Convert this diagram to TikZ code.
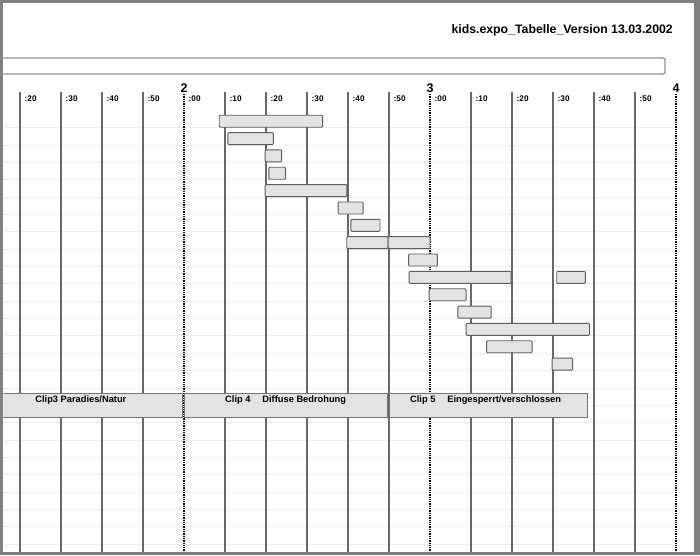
\documentclass[tikz,border=0pt]{standalone}
\usepackage{fontspec}
\setmainfont{Liberation Sans}
\usetikzlibrary{positioning}
\definecolor{framegray}{HTML}{808080}
\definecolor{gridgray}{HTML}{686868}
\definecolor{rowgray}{HTML}{EDEDED}
\definecolor{barfill}{HTML}{E3E3E3}
\definecolor{barline}{HTML}{5C5C5C}
\tikzset{
    tick/.style={draw=gridgray,line width=1.1pt},
    hour/.style={draw=black,line width=1.3pt,densely dotted},
    rowline/.style={draw=rowgray,line width=0.9pt},
    bar/.style={draw=barline,fill=barfill,line width=0.9pt,rounded corners=1pt},
    clipbox/.style={draw=barline!85,fill=barfill,line width=1pt},
    minlabel/.style={anchor=west,inner sep=0pt,font=\fontsize{8.2}{10}\selectfont\bfseries},
    hourlabel/.style={anchor=base,inner sep=0pt,font=\fontsize{12.5}{14}\selectfont\bfseries},
    cliplabel/.style={anchor=north west,inner sep=0pt,font=\fontsize{9.3}{11}\selectfont\bfseries},
    headline/.style={anchor=base east,inner sep=0pt,font=\fontsize{12.3}{14}\selectfont\bfseries},
}

\begin{document}
\begin{tikzpicture}[x=1pt,y=-1pt]
    \useasboundingbox (0,0) rectangle (700,555);
    \fill[framegray] (0,0) rectangle (700,555);
    \fill[white] (3.3,2.7) rectangle (694,551.5);

    \begin{scope}
    \clip (3.3,2.7) rectangle (694,551.5);
    \node[headline] (title) at (673,33.3) {kids.expo\_Tabelle\_Version 13.03.2002};
    \draw[framegray!90,line width=1.3pt,rounded corners=1.5pt] (-5,58) rectangle (665,74);

    \foreach \r in {0,...,24}
        \draw[rowline] (-5,{127.7+17.35*\r}) -- (676,{127.7+17.35*\r});

    \begin{scope}[x=4.1pt,xshift=184pt]
    \foreach \m in {-40,-30,-20,-10,10,20,30,40,50,70,80,90,100,110}
        \draw[tick] (\m,92) -- (\m,552);
    \foreach \m/\h in {0/2,60/3,120/4} {
        \draw[hour] (\m,94) -- (\m,552);
        \node[hourlabel] (hour\h) at (\m,92.7) {\h};
    }
    \foreach \m/\mm [count=\i] in {-40/20,-30/30,-20/40,-10/50,0/00,10/10,20/20,30/30,
        40/40,50/50,60/00,70/10,80/20,90/30,100/40,110/50}
        \node[minlabel] (min\i) at (\m+1.1,99) {:\mm};

    \foreach \r/\a/\b in {0/8.6/33.8, 1/10.7/21.8, 2/19.8/23.8, 3/20.7/24.8, 4/19.8/39.7,
        5/37.6/43.7, 6/40.7/47.8, 7/39.7/49.8, 7/49.8/60, 8/54.8/61.8, 9/54.9/79.8,
        9/90.9/97.9, 10/59.8/68.8, 11/66.8/74.9, 12/68.8/98.9, 13/73.8/84.9, 14/89.8/94.8}
        \draw[bar] (\a,{115.2+17.35*\r}) rectangle (\b,{127.2+17.35*\r});

    \draw[clipbox] (-70,393.3) rectangle (-0.3,417.3);
    \draw[clipbox] (0.1,393.3) rectangle (49.7,417.3);
    \draw[clipbox] (50.1,393.3) rectangle (98.5,417.3);
    \node[cliplabel] (clip3) at (-36.3,396) {Clip3 Paradies/Natur};
    \node[cliplabel] (clip4) at (10,396) {Clip 4\quad\ Diffuse Bedrohung};
    \node[cliplabel] (clip5) at (55.1,396) {Clip 5\quad\ Eingesperrt/verschlossen};
    \end{scope}
    \end{scope}
\end{tikzpicture}
\end{document}
